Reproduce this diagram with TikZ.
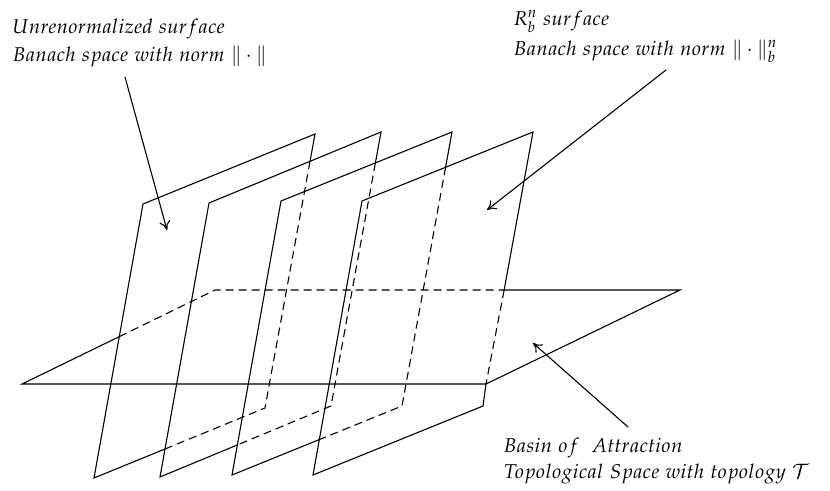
\documentclass[tikz,border=0pt]{standalone}
\usepackage{amsmath,amssymb}
\usepackage{mathpazo}
\usetikzlibrary{arrows.meta}

\begin{document}
\begin{tikzpicture}[x=1pt, y=-1pt, line width=1.1pt, >={To[length=9pt,width=11pt]},
    hid/.style={dash pattern=on 8pt off 5pt},
    every node/.style={font=\fontsize{20}{28}\selectfont, inner sep=0pt, align=left}]
  \useasboundingbox (0,0) rectangle (830,490);

  \coordinate (a1) at (143,204); \coordinate (b1) at (315,134);
  \coordinate (c1) at (265,408); \coordinate (d1) at (94,478);
  \coordinate (a2) at (209,203); \coordinate (b2) at (381,132);
  \coordinate (c2) at (331,406); \coordinate (d2) at (160,477);
  \coordinate (a3) at (281,201); \coordinate (b3) at (452,132);
  \coordinate (c3) at (402,406); \coordinate (d3) at (232,475);
  \coordinate (a4) at (362,201); \coordinate (b4) at (533,132);
  \coordinate (c4) at (483,406); \coordinate (d4) at (313,475);
  \coordinate (h1) at (22,384);  \coordinate (h2) at (486,384);
  \coordinate (h3) at (680,290); \coordinate (h4) at (215,290);

  \coordinate (hl) at (intersection of h1--h4 and a1--d1);
  \coordinate (hb) at (intersection of h4--h3 and b4--c4);
  \draw (hl) -- (h1) -- (h2) -- (h3) -- (hb);
  \draw[hid] (hl) -- (h4) -- (hb);

  \coordinate (r1) at (intersection of b1--c1 and a2--b2);
  \coordinate (s1) at (intersection of d1--c1 and a2--d2);
  \draw (r1) -- (b1) -- (a1) -- (d1) -- (s1);
  \draw[hid] (r1) -- (c1) -- (s1);

  \coordinate (r2) at (intersection of b2--c2 and a3--b3);
  \coordinate (s2) at (intersection of d2--c2 and a3--d3);
  \draw (r2) -- (b2) -- (a2) -- (d2) -- (s2);
  \draw[hid] (r2) -- (c2) -- (s2);

  \coordinate (r3) at (intersection of b3--c3 and a4--b4);
  \coordinate (s3) at (intersection of d3--c3 and a4--d4);
  \draw (r3) -- (b3) -- (a3) -- (d3) -- (s3);
  \draw[hid] (r3) -- (c3) -- (s3);

  \draw (hb) -- (b4) -- (a4) -- (d4) -- (c4) -- (h2);
  \draw[hid] (hb) -- (h2);

  \node[anchor=base west] (unren) at (12,61)
    {$Unrenormalized\ surface$\\$Banach\ space\ with\ norm\ \|\cdot\|$};
  \node[anchor=base west] (rbn) at (513,55)
    {$R_b^n\ surface$\\[2pt]$Banach\ space\ with\ norm\ \|\cdot\|_b^n$};
  \node[anchor=base west] (basin) at (503,478)
    {$Basin\ of\ \ Attraction$\\[-2pt]$Topological\ Space\ with\ topology\ \mathcal{T}$};

  \coordinate (unrenTail) at (125,77);  \coordinate (unrenTip) at (167,230);
  \coordinate (rbnTail) at (666,70);    \coordinate (rbnTip) at (487,210);
  \coordinate (basinTail) at (628,427); \coordinate (basinTip) at (533,343);
  \draw[->] (unrenTail) -- (unrenTip);
  \draw[->] (rbnTail) -- (rbnTip);
  \draw[->] (basinTail) -- (basinTip);
\end{tikzpicture}
\end{document}
